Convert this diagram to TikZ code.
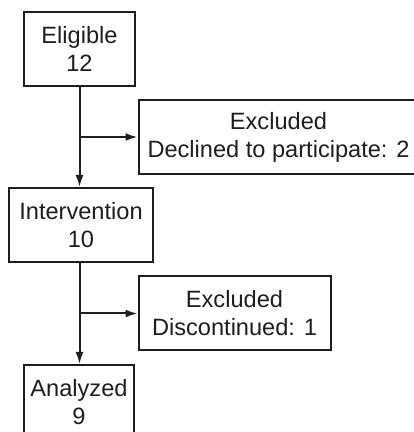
\documentclass[tikz,border=0pt]{standalone}
\usepackage{fontspec}
\setmainfont{Liberation Sans}
\usetikzlibrary{arrows.meta,positioning,calc}
\definecolor{ink}{HTML}{1E1E1E}
\tikzset{
  box/.style={rectangle, draw=ink, line width=2pt, fill=white, align=center,
              inner sep=4pt, minimum height=74pt, text=ink,
              font=\fontsize{23.6}{28}\selectfont},
  ar/.style={-{Latex[length=12pt,width=8pt]}, draw=ink, line width=2pt}
}
\begin{document}
\begin{tikzpicture}[x=1pt, y=1pt]
\useasboundingbox (0,0) rectangle (414,432);
\clip (0,0) rectangle (414,432);
% ---- main column ----
\node[box, minimum width=111pt] (elig) at (79.5,383) {Eligible\\12};
\node[box, minimum width=144pt, below=100pt of elig.south, anchor=north, xshift=1.5pt] (interv) {Intervention\\10};
\node[box, minimum width=110pt, below=101pt of interv.south, anchor=north, xshift=-2pt] (anal) {Analyzed\\9};
% ---- branch points ----
\coordinate (b1) at ($(elig.south)!0.5!(elig.south |- interv.north)$);
\coordinate (b2) at ($(interv.south -| elig.south)!0.5!(elig.south |- anal.north)$);
% ---- exclusions ----
\node[box, minimum width=280pt, right=58pt of b1, anchor=west] (excl1) {Excluded\\Declined to participate: 2};
\node[box, minimum width=192pt, right=58pt of b2, anchor=west] (excl2) {Excluded\\Discontinued: 1};
% ---- arrows ----
\draw[ar] (elig.south) -- (elig.south |- interv.north);
\draw[ar] (interv.south -| elig.south) -- (elig.south |- anal.north);
\draw[ar] (b1) -- (excl1.west);
\draw[ar] (b2) -- (excl2.west);
\end{tikzpicture}
\end{document}
